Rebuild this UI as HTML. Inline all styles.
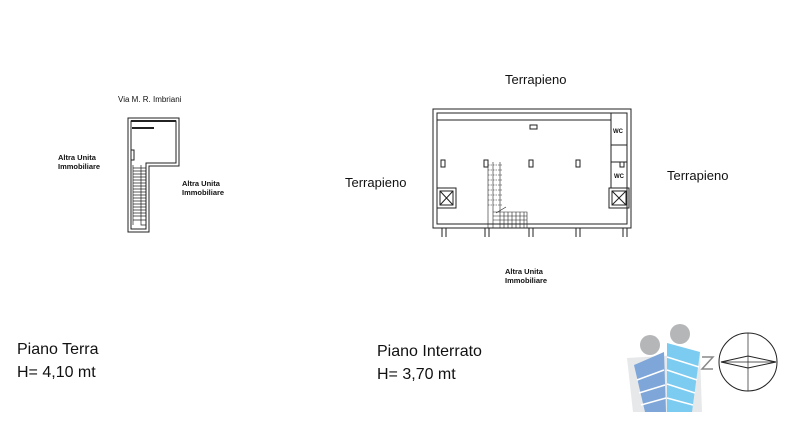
<!DOCTYPE html>
<html><head><meta charset="utf-8"><style>
body{margin:0;background:#fff}
svg{display:block}
text{font-family:"Liberation Sans",sans-serif;fill:#111}
</style></head><body>
<svg width="800" height="446" viewBox="0 0 800 446" xmlns="http://www.w3.org/2000/svg">
<g stroke="#222" fill="none" stroke-width="1">
<!-- left plan -->
<path d="M128,118 H179 V166 H149 V232 H128 Z"/>
<path d="M131,121 H176 V163 H146 V229 H131 Z"/>
<line x1="131" y1="121" x2="176" y2="121" stroke-width="2"/>
<line x1="132" y1="128" x2="154" y2="128" stroke-width="2"/>
<path d="M131,150 H134 V160 H131"/>
<g stroke-width="0.7">
<line x1="133" y1="165" x2="133" y2="225"/><line x1="141" y1="165" x2="141" y2="220"/>
<path d="M133,168 H146 M133,171 H146 M133,174 H146 M133,177 H146 M133,180 H146 M133,183 H146 M133,186 H146 M133,189 H146 M133,192 H146 M133,195 H146 M133,198 H146 M133,201 H146 M133,204 H146 M133,207 H146 M133,210 H146 M133,213 H146 M133,216 H146 M133,220 H146 M141,220 V225 H146"/>
</g>
<!-- right plan -->
<path d="M433,109 H631 V228 H433 Z"/>
<path d="M437,113 H627 V224 H437 Z"/>
<line x1="437" y1="120" x2="611" y2="120"/>
<line x1="611" y1="113" x2="611" y2="188"/>
<line x1="611" y1="145" x2="627" y2="145"/>
<line x1="611" y1="162" x2="627" y2="162"/>
<rect x="437" y="188" width="19" height="20"/><rect x="440" y="191" width="13" height="14"/>
<path d="M440,191 L453,205 M453,191 L440,205"/>
<rect x="609" y="188" width="20" height="20"/><rect x="612" y="191" width="14" height="14"/>
<path d="M612,191 L626,205 M626,191 L612,205"/>
<rect x="530" y="125" width="7" height="4"/>
<rect x="441" y="160" width="4" height="7"/><rect x="484" y="160" width="4" height="7"/>
<rect x="529" y="160" width="4" height="7"/><rect x="576" y="160" width="4" height="7"/>
<rect x="620" y="162" width="4" height="5"/>
<path d="M442,228 V237 M446,228 V237 M485,228 V237 M489,228 V237 M529,228 V237 M533,228 V237 M576,228 V237 M580,228 V237 M623,228 V237 M627,228 V237"/>
<g stroke-width="0.6">
<path d="M488,162 V228 M493,162 V228 M500,162 V210 M500,210 V228 M496,213 L506,207"/>
<path d="M488,165 H502 M488,170 H502 M488,175 H502 M488,180 H502 M488,185 H502 M488,190 H502 M488,195 H502 M488,200 H502 M488,205 H502" stroke-dasharray="1.5,1"/>
<path d="M493,212 H500 M493,216 H500 M493,220 H500 M493,224 H500 M500,212 H527 V228 M500,216 H527 M500,220 H527 M500,224 H527 M504,212 V228 M508,212 V228 M512,212 V228 M516,212 V228 M520,212 V228 M524,212 V228"/>
</g>
<!-- compass -->
<circle cx="748" cy="362" r="29"/>
<line x1="748" y1="333" x2="748" y2="391" stroke-width="0.7"/>
<path d="M721,362 L748,356 L776,362 L748,368 Z"/>
<line x1="721" y1="362" x2="776" y2="362" stroke-width="0.7"/>
<path d="M702,357 H713 L702,369 H713" stroke="#888" stroke-width="1.5"/>
</g>
<!-- logo -->
<polygon points="627,358 700,354 702,412 633,412" fill="#e6e8ea"/>
<polygon points="634,365 664,352 666,412 645,412" fill="#7fa6d8"/>
<polygon points="667,343 700,352 692,412 667,412" fill="#7ccbf0"/>
<g stroke="#fff" stroke-width="1.5">
<line x1="637" y1="380" x2="664" y2="370"/><line x1="639" y1="393" x2="665" y2="385"/><line x1="641" y1="405" x2="666" y2="398"/>
<line x1="667" y1="357" x2="699" y2="367"/><line x1="667" y1="370" x2="697" y2="380"/><line x1="667" y1="384" x2="695" y2="393"/><line x1="667" y1="398" x2="693" y2="405"/>
</g>
<circle cx="650" cy="345" r="10" fill="#b5b6b8"/>
<circle cx="680" cy="334" r="10" fill="#b5b6b8"/>
<!-- labels -->
<text x="118" y="102" font-size="8">Via M. R. Imbriani</text>
<text x="58" y="160" font-size="7.5" font-weight="bold">Altra Unita</text>
<text x="58" y="169" font-size="7.5" font-weight="bold">Immobiliare</text>
<text x="182" y="186" font-size="7.5" font-weight="bold">Altra Unita</text>
<text x="182" y="195" font-size="7.5" font-weight="bold">Immobiliare</text>
<text x="505" y="274" font-size="7.5" font-weight="bold">Altra Unita</text>
<text x="505" y="283" font-size="7.5" font-weight="bold">Immobiliare</text>
<text x="505" y="84" font-size="13">Terrapieno</text>
<text x="345" y="187" font-size="13">Terrapieno</text>
<text x="667" y="180" font-size="13">Terrapieno</text>
<text x="613" y="133" font-size="6" font-weight="bold">WC</text>
<text x="614" y="178" font-size="6" font-weight="bold">WC</text>
<text x="17" y="354" font-size="16">Piano Terra</text>
<text x="17" y="377" font-size="16">H= 4,10 mt</text>
<text x="377" y="356" font-size="16">Piano Interrato</text>
<text x="377" y="379" font-size="16">H= 3,70 mt</text>
</svg>
</body></html>
